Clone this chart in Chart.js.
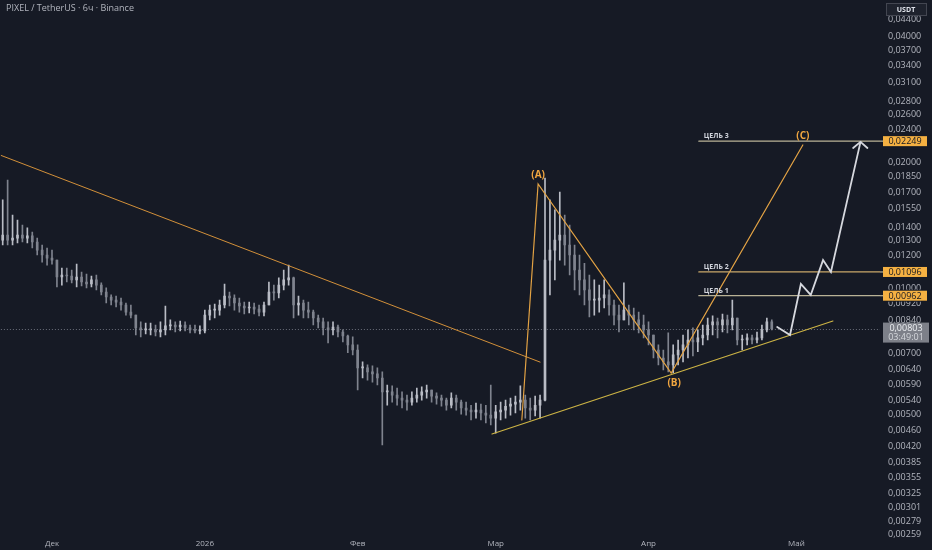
<!DOCTYPE html>
<html><head><meta charset="utf-8">
<script src="https://cdn.jsdelivr.net/npm/chart.js@4.4.1/dist/chart.umd.min.js"></script>
<style>html,body{margin:0;padding:0;background:#161a25;}#wrap{width:932px;height:550px;position:relative;}</style>
</head><body><div id="wrap"><canvas id="c"></canvas></div>
<script>
// Prices in units of 0.00001 USDT, one candle per day starting 21 Nov 2025 (day 0)
const opens = [1306,1343,1306,1320,1343,1320,1336,1292,1236,1203,1183,1170,1066,1078,1072,1049,1066,1037,1026,1049,
1020,982,955,939,929,914,879,865,806,797,797,797,788,797,815,819,810,819,806,797,
793,793,865,889,889,914,960,950,924,909,899,904,894,879,914,982,977,1020,1049,1061,
914,924,889,879,851,833,806,797,810,788,771,734,714,647,647,633,626,612,567,567,
557,548,542,536,548,557,567,573,554,548,542,527,548,536,519,513,508,513,505,499,
491,508,513,524,530,536,542,519,513,527,542,1170,1236,1306,1343,1271,1203,1108,1049,993,
939,939,950,966,914,865,842,889,865,842,819,797,775,714,683,669,658,695,714,734,
754,746,763,775,819,833,819,842,819,851,754,754,763,754,763,797,833];
const highs = [1628,1817,1499,1458,1419,1396,1365,1320,1271,1250,1236,1170,1120,1120,1108,1144,1096,1084,1072,1078,
1032,1004,966,960,950,924,914,865,833,828,828,819,833,909,842,833,837,833,819,819,
815,889,914,919,939,1026,982,966,950,929,929,924,914,929,1037,1020,1061,1108,1138,1066,
960,939,929,889,865,851,833,833,819,797,775,767,734,669,658,654,647,633,589,586,
579,567,557,567,579,583,589,573,564,557,548,564,557,542,536,527,533,530,527,589,
527,536,542,548,554,586,557,548,554,557,1837,1628,1541,1701,1499,1419,1271,1203,1150,1078,
1049,1020,1049,993,939,914,1032,914,899,879,865,833,775,734,714,784,734,754,775,797,
806,797,819,851,861,851,870,865,939,851,775,780,775,788,819,851,842];
const lows = [1271,1271,1271,1285,1292,1285,1250,1203,1157,1138,1144,1009,1020,1037,1032,1009,1015,1004,1009,993,
966,924,914,904,889,865,851,775,767,780,775,771,767,775,797,788,793,793,784,784,
780,784,842,851,865,899,909,889,879,870,875,870,861,861,914,939,950,993,1020,851,
865,851,851,819,806,775,742,775,767,746,703,695,573,612,605,598,589,424,527,536,
527,519,513,527,536,542,548,536,530,524,513,519,513,502,499,486,491,486,478,473,
452,486,491,499,505,513,491,486,497,491,540,966,1049,1170,1138,1078,993,966,914,856,
865,879,899,865,819,788,842,819,797,784,763,734,683,658,640,633,629,658,669,683,
691,707,734,754,775,763,788,784,797,734,714,734,738,742,754,788,797];
const closes = [1343,1306,1320,1343,1320,1336,1292,1236,1203,1183,1170,1066,1078,1072,1049,1066,1037,1026,1049,1020,
982,955,939,929,914,879,865,806,797,797,797,788,797,815,819,810,819,806,797,793,
793,865,889,889,914,960,950,924,909,899,904,894,879,914,982,977,1020,1049,1061,914,
924,889,879,851,833,806,797,810,788,771,734,714,647,647,633,626,612,567,567,557,
548,542,536,548,557,567,573,554,548,542,527,548,536,519,513,508,513,505,499,491,
508,513,524,530,536,542,519,513,527,542,1170,1236,1306,1343,1271,1203,1108,1049,993,939,
939,950,966,914,865,842,889,865,842,819,797,775,714,683,669,658,695,714,734,754,
746,763,775,819,833,819,842,819,851,754,754,763,754,763,797,833,803];

const monthTicks = [10, 41, 72, 100, 131, 161];
const monthLabels = ['Дек', '2026', 'Фев', 'Мар', 'Апр', 'Май'];
const priceTicks = [4400,4000,3700,3400,3100,2800,2600,2400,2000,1850,1700,1550,1400,1300,1200,1000,920,840,700,640,590,540,500,460,420,385,355,325,301,279,259];

// Drawings, in (day, price) units
const downTrendX = [-0.6, 109.0];
const downTrendY = [2085, 668];
const waveX = [105.3, 108.6, 135.6, 162.3];
const waveY = [486, 1777, 629, 2202];
const supportX = [99.25, 168.4];
const supportY = [450, 837];
const projX = [157.1, 159.7, 161.9, 163.9, 166.4, 168.0, 174.0];
const projY = [810, 775, 1026, 966, 1170, 1096, 2240];
const arrowX = [172.5, 174.0, 175.4];
const arrowY = [2166, 2240, 2166];
const targetLevels = [962, 1096, 2249];
const targetNames = ['ЦЕЛЬ 1', 'ЦЕЛЬ 2', 'ЦЕЛЬ 3'];
const targetStartDay = 141.2;
const waveLabels = ['(A)', '(B)', '(C)'];
const waveLabelX = [108.6, 136.2, 162.3];
const waveLabelY = [1867, 595, 2313];
const lastPrice = 803;
const countdown = '03:49:01';
const titleText = 'PIXEL / TetherUS · 6ч · Binance';

// reference calibration of the axes (pixel <-> value)
const REF = {y0: 19, p0: 4400, pxPerLn: 182, x0: 2.7, pxPerDay: 4.93};

const fmt = v => (v / 1e5).toFixed(5).replace('.', ',');
const days = closes.map((_, i) => i);
const UP = '#b9bcc5', DOWN = '#7f838e';
const candleColors = closes.map((c, i) => c >= opens[i] ? UP : DOWN);
const pts = (xs, ys) => xs.map((x, i) => ({x, y: ys[i]}));
const lineDs = (data, color, width, order) => ({type: 'line', data, borderColor: color, borderWidth: width,
  pointRadius: 0, fill: false, tension: 0, order, borderCapStyle: 'round', borderJoinStyle: 'miter'});

const datasets = [
  {type: 'bar', data: days.map(i => ({x: i, y: [lows[i], highs[i]]})), backgroundColor: candleColors,
   barThickness: 1, grouped: false, order: 10, minBarLength: 1},
  {type: 'bar', data: days.map(i => ({x: i, y: [opens[i], closes[i]]})), backgroundColor: candleColors,
   barThickness: 2, grouped: false, order: 9, minBarLength: 1},
  lineDs(pts(downTrendX, downTrendY), '#d2903a', 1, 5),
  lineDs(pts(waveX, waveY), '#e2a244', 1.2, 4),
  lineDs(pts(supportX, supportY), '#cdb445', 1.2, 4),
];
targetLevels.forEach((lv, i) => {
  datasets.push(lineDs([{x: targetStartDay, y: lv}, {x: 200, y: lv}], i === 1 ? '#c9a86a' : '#b9b296', 1.2, 3));
});
datasets.push(lineDs(pts(projX, projY), '#d6d8de', 1.8, 1));
datasets.push(lineDs(pts(arrowX, arrowY), '#d6d8de', 1.8, 1));

const overlay = {
  id: 'overlay',
  beforeDatasetsDraw(chart) {
    const {ctx, chartArea: a, scales: {y}} = chart;
    const py = y.getPixelForValue(lastPrice);
    ctx.save();
    ctx.strokeStyle = '#6a6e79'; ctx.lineWidth = 1; ctx.setLineDash([1, 2]);
    ctx.beginPath(); ctx.moveTo(a.left, Math.round(py) + 0.5); ctx.lineTo(a.right, Math.round(py) + 0.5); ctx.stroke();
    ctx.restore();
  },
  afterDraw(chart) {
    const {ctx, chartArea: a, scales: {x, y}} = chart;
    ctx.save();
    // title
    ctx.fillStyle = '#b2b5be'; ctx.font = '500 9px "Open Sans"'; ctx.textBaseline = 'middle'; ctx.textAlign = 'left';
    ctx.fillText(titleText, 6, 8);
    // wave labels
    ctx.font = 'bold 10px "Open Sans"'; ctx.fillStyle = '#f0a640'; ctx.textAlign = 'center';
    waveLabels.forEach((t, i) => ctx.fillText(t, x.getPixelForValue(waveLabelX[i]), y.getPixelForValue(waveLabelY[i])));
    // target names
    ctx.font = 'bold 7px "Open Sans"'; ctx.fillStyle = '#d1d4dc'; ctx.textAlign = 'left';
    targetLevels.forEach((lv, i) => ctx.fillText(targetNames[i], x.getPixelForValue(targetStartDay) + 5, y.getPixelForValue(lv) - 5));
    // axis labels for targets
    const bx = a.right + 3, bw = 44;
    ctx.textAlign = 'center';
    targetLevels.forEach(lv => {
      const py = y.getPixelForValue(lv);
      ctx.fillStyle = '#161a25'; ctx.fillRect(bx, py - 6, bw + 4, 12);
      ctx.strokeStyle = '#b9b296'; ctx.lineWidth = 1.2; ctx.beginPath(); ctx.moveTo(a.right, py); ctx.lineTo(bx, py); ctx.stroke();
      ctx.fillStyle = '#f5b142'; ctx.fillRect(bx, py - 5, bw, 10);
      ctx.fillStyle = '#131722'; ctx.font = '9px "Open Sans"'; ctx.fillText(fmt(lv), bx + bw / 2, py + 0.5);
    });
    // last price label
    const lp = y.getPixelForValue(lastPrice);
    ctx.fillStyle = '#7d8089'; ctx.fillRect(bx, lp - 6, bw + 2, 20);
    ctx.fillStyle = '#eceef2'; ctx.font = '9px "Open Sans"';
    ctx.fillText(fmt(lastPrice), bx + bw / 2 + 1, lp);
    ctx.fillStyle = '#d5d7dc'; ctx.fillText(countdown, bx + bw / 2 + 1, lp + 8.5);
    // USDT box
    ctx.fillStyle = '#1e222d'; ctx.fillRect(886, 3, 40, 12);
    ctx.strokeStyle = '#434651'; ctx.lineWidth = 1; ctx.strokeRect(886.5, 3.5, 40, 12);
    ctx.fillStyle = '#e0e3eb'; ctx.font = 'bold 7px "Open Sans"'; ctx.fillText('USDT', 906, 9.5);
    ctx.restore();
  }
};

const chart = new Chart(document.getElementById('c'), {
  type: 'bar',
  data: {datasets},
  options: {
    responsive: true, maintainAspectRatio: false, animation: false, events: [],
    layout: {padding: 0},
    plugins: {legend: {display: false}, tooltip: {enabled: false}},
    scales: {
      x: {type: 'linear', min: -0.55, max: 178, offset: false,
        grid: {display: false, drawTicks: false}, border: {display: false},
        afterFit: s => { s.height = 12; },
        afterBuildTicks: s => { s.ticks = monthTicks.map(v => ({value: v})); },
        ticks: {autoSkip: false, maxRotation: 0, padding: 2, color: '#b2b5be', font: {family: 'Open Sans', size: 8},
          callback: v => { const k = monthTicks.indexOf(v); return k >= 0 ? monthLabels[k] : ''; }}},
      y: {type: 'logarithmic', position: 'right', min: 254, max: 4884,
        grid: {display: false, drawTicks: false}, border: {display: false},
        afterFit: s => { s.width = 52; },
        afterBuildTicks: s => { s.ticks = priceTicks.map(v => ({value: v})); },
        ticks: {autoSkip: false, padding: 8, color: '#b2b5be', font: {family: 'Open Sans', size: 9}, callback: v => fmt(v)}}
    }
  },
  plugins: [overlay]
});

function calibrate() {
  const a = chart.chartArea;
  chart.options.scales.y.max = REF.p0 * Math.exp((REF.y0 - a.top) / REF.pxPerLn);
  chart.options.scales.y.min = REF.p0 * Math.exp(-(a.bottom - REF.y0) / REF.pxPerLn);
  chart.options.scales.x.min = (a.left - REF.x0) / REF.pxPerDay;
  chart.options.scales.x.max = (a.right - REF.x0) / REF.pxPerDay;
  chart.update('none');
}
calibrate(); calibrate();
</script></body></html>
